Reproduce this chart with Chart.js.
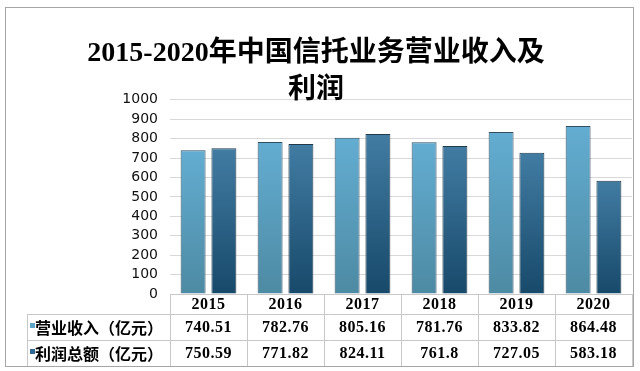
<!DOCTYPE html>
<html>
<head>
<meta charset="utf-8">
<script src="https://cdn.jsdelivr.net/npm/chart.js@4/dist/chart.umd.min.js"></script>
<style>
  html, body { margin: 0; padding: 0; background: #fff; }
  #wrap { width: 640px; height: 371px; position: relative; }
</style>
</head>
<body>
<div id="wrap"><canvas id="chart"></canvas></div>
<script>
const years = ['2015', '2016', '2017', '2018', '2019', '2020'];
const revenue = [740.51, 782.76, 805.16, 781.76, 833.82, 864.48];
const profit = [750.59, 771.82, 824.11, 761.8, 727.05, 583.18];
const seriesNames = ['营业收入（亿元）', '利润总额（亿元）'];
const titleLines = ['2015-2020年中国信托业务营业收入及', '利润'];
const yMax = 1000;
const yStep = 100;

const CJK = "'Noto Sans CJK SC'";
const SERIF = "'Liberation Serif', " + CJK;

// colours of each series: [top, bottom]
const barColors = [
    ['#63add2', '#4d8aa3'],
    ['#427ca3', '#17496a']
];
const swatchColors = ['#5ea3c8', '#2f6890'];

function barGradient(ctx, idx) {
    const chart = ctx.chart;
    const area = chart.chartArea;
    if (!area || ctx.type !== 'data') return barColors[idx][0];
    const y = chart.scales.y;
    const top = y.getPixelForValue(ctx.raw);
    const bottom = y.getPixelForValue(0);
    const g = chart.ctx.createLinearGradient(0, top, 0, bottom);
    g.addColorStop(0, barColors[idx][0]);
    g.addColorStop(1, barColors[idx][1]);
    return g;
}

const frame = {
    id: 'frame',
    beforeDraw(chart) {
        const c = chart.ctx;
        c.save();
        c.fillStyle = '#fff';
        c.fillRect(0, 0, chart.width, chart.height);
        c.restore();
    },
    afterDraw(chart) {
        const c = chart.ctx;
        const area = chart.chartArea;
        const x = chart.scales.x;
        const n = years.length;
        const colW = (x.right - x.left) / n;
        const tableTop = area.bottom;
        const row0 = tableTop + 20;
        const row1 = row0 + 26;
        const row2 = row1 + 26;
        const tableLeft = 27;

        c.save();
        c.strokeStyle = '#c8c8c8';
        c.lineWidth = 1;
        c.beginPath();
        c.moveTo(x.left, tableTop + 0.5); c.lineTo(x.right, tableTop + 0.5);
        c.moveTo(tableLeft, row0 + 0.5); c.lineTo(x.right, row0 + 0.5);
        c.moveTo(tableLeft, row1 + 0.5); c.lineTo(x.right, row1 + 0.5);
        for (let i = 0; i <= n; i++) {
            const px = Math.round(x.left + i * colW) + 0.5;
            c.moveTo(px, tableTop); c.lineTo(px, row2);
        }
        c.moveTo(tableLeft + 0.5, row0); c.lineTo(tableLeft + 0.5, row2);
        c.stroke();

        // outer border
        c.strokeStyle = '#a6a6a6';
        c.strokeRect(5.5, 7.5, 628, 359);

        c.fillStyle = '#000';
        c.textAlign = 'center';
        c.textBaseline = 'middle';
        c.font = 'bold 16px ' + SERIF;
        if ('letterSpacing' in c) c.letterSpacing = '0.5px';
        for (let i = 0; i < n; i++) {
            const cx = x.getPixelForValue(i);
            c.fillText(years[i], cx, (tableTop + row0) / 2 + 1);
            c.fillText(String(revenue[i]), cx, (row0 + row1) / 2 + 1);
            c.fillText(String(profit[i]), cx, (row1 + row2) / 2 + 1);
        }
        if ('letterSpacing' in c) c.letterSpacing = '0px';

        c.textAlign = 'left';
        c.font = 'bold 16px ' + CJK;
        const rows = [(row0 + row1) / 2, (row1 + row2) / 2];
        rows.forEach((cy, k) => {
            c.fillStyle = swatchColors[k];
            c.fillRect(30, cy - 4, 5, 5);
            c.fillStyle = '#000';
            c.fillText(seriesNames[k], 35, cy + 1);
        });
        c.restore();
    }
};

new Chart(document.getElementById('chart'), {
    type: 'bar',
    data: {
        labels: years,
        datasets: [
            {
                label: seriesNames[0],
                data: revenue,
                backgroundColor: ctx => barGradient(ctx, 0),
                borderColor: '#2f4f60',
                borderWidth: 1,
                barPercentage: 0.81,
                categoryPercentage: 0.8
            },
            {
                label: seriesNames[1],
                data: profit,
                backgroundColor: ctx => barGradient(ctx, 1),
                borderColor: '#1f3a4a',
                borderWidth: 1,
                barPercentage: 0.81,
                categoryPercentage: 0.8
            }
        ]
    },
    options: {
        responsive: true,
        maintainAspectRatio: false,
        animation: false,
        layout: { padding: { left: 0, right: 8, top: 0, bottom: 77 } },
        plugins: {
            legend: { display: false },
            tooltip: { enabled: false },
            title: {
                display: true,
                text: titleLines,
                color: '#000',
                font: { family: SERIF, size: 28, weight: 'bold', lineHeight: 1.3 },
                padding: { top: 36, bottom: -9 }
            }
        },
        scales: {
            x: { display: false },
            y: {
                min: 0,
                max: yMax,
                afterFit(scale) { scale.width = 170; },
                border: { display: false },
                grid: { color: '#d9d9d9', drawTicks: false },
                ticks: {
                    stepSize: yStep,
                    autoSkip: false,
                    padding: 12,
                    color: '#111',
                    callback: v => String(v),
                    font: { family: "'DejaVu Sans'", size: 14 }
                }
            }
        }
    },
    plugins: [frame]
});
</script>
</body>
</html>
